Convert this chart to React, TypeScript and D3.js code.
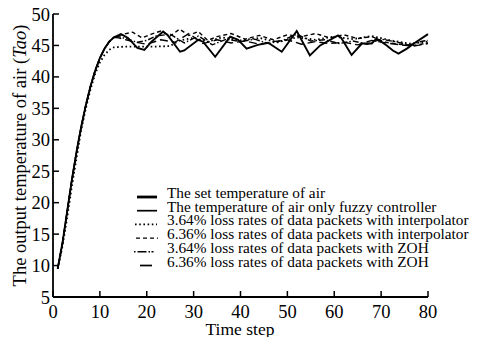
import * as d3 from 'd3';

// rising part shared by all runs
const riseSteps = [1, 2, 3, 4, 5, 6, 7, 8, 9, 10, 11, 12, 13];
const riseTemp = [9.5, 13.5, 18.5, 23.5, 28, 32, 35.5, 38.5, 41, 43, 44.5, 45.6, 46.3];
const riseTempLag = [9.5, 13, 17.5, 22.5, 27, 31.5, 35, 38, 40.5, 42.3, 43.5, 44.3, 44.7];

// only fuzzy controller (solid)
const fuzzySteps = [14.5, 16, 18, 19.5, 21, 23.5, 24.5, 27.1, 28, 31, 32, 34.6, 37.8, 39.5, 41.3, 43.7, 46, 48.8, 52, 54.8, 57, 60.8, 61.5, 63.7, 65.9, 68, 69, 71.2, 72.5, 73.7, 75.5, 77, 80];
const fuzzyTemp = [46.8, 46.2, 44.6, 44.3, 45.6, 47.2, 46.6, 44, 44.2, 45.9, 45.6, 43.2, 46.4, 45.9, 44.5, 45.1, 45.4, 44, 47.3, 43.4, 45, 46.6, 46.2, 43.5, 45.3, 45.3, 46.1, 45, 44.2, 43.7, 44.5, 45.3, 46.8];

// 3.64% loss, interpolator (dotted)
const interp364Steps = [15, 18, 21, 25, 27, 30, 33, 36, 40, 44, 48, 52, 56, 60, 64, 68, 72, 76, 80];
const interp364Temp = [44.8, 44.8, 44.8, 44.9, 45.8, 46.2, 45.6, 46.3, 45.8, 46.2, 45.5, 46.3, 45.9, 46.4, 46, 46.5, 45.8, 45.3, 45.6];

// 6.36% loss, interpolator (dashed)
const interp636Steps = [15, 17, 19, 21, 23, 25, 27, 29, 31, 33, 35, 38, 41, 44, 47, 50, 53, 56, 59, 62, 65, 68, 71, 74, 77, 80];
const interp636Temp = [46.8, 47.1, 46.2, 46.8, 47.3, 46.5, 47.6, 46.6, 47.2, 45.8, 46.4, 46.9, 46, 46.6, 45.9, 46.7, 46.4, 46.9, 46.2, 46.7, 46.1, 46.4, 45.5, 45.2, 45, 45.4];

// 3.64% loss, ZOH (dash-dot)
const zoh364Steps = [14, 16, 18, 20, 22, 25, 28, 31, 34, 37, 40, 43, 46, 49, 52, 55, 58, 61, 64, 67, 70, 73, 76, 79, 80];
const zoh364Temp = [46.4, 46, 45.5, 45.8, 46.5, 46.8, 45.4, 46.5, 45.1, 46, 45.6, 46, 45.3, 45.8, 46.8, 45.7, 45.9, 45.3, 45.7, 45.2, 46, 45.6, 45.1, 45.7, 45.8];

// 6.36% loss, ZOH (long dash)
const zoh636Steps = [14, 17, 20, 23, 26, 29, 32, 35, 38, 41, 44, 47, 50, 53, 56, 59, 62, 65, 68, 71, 74, 77, 80];
const zoh636Temp = [46.2, 45.6, 45.2, 45.9, 45.5, 46.9, 45.3, 45.9, 45.4, 45.7, 45.2, 45.6, 45.9, 45.2, 45.6, 45.3, 45.5, 45.1, 45.8, 45.4, 45.1, 44.9, 45.3];

const xTicks = [0, 10, 20, 30, 40, 50, 60, 70, 80];
const yTicks = [5, 10, 15, 20, 25, 30, 35, 40, 45, 50];
const legendLabels = [
  'The set temperature of air',
  'The temperature of air only fuzzy controller',
  '3.64% loss rates of data packets with interpolator',
  '6.36% loss rates of data packets with interpolator',
  '3.64% loss rates of data packets with ZOH',
  '6.36% loss rates of data packets with ZOH',
];

const font = 'Liberation Serif, Times New Roman, serif';

const App = () => {
  const width = 481;
  const height = 337;
  const x = d3.scaleLinear().domain([0, 80]).range([53, 428]);
  const y = d3.scaleLinear().domain([5, 50]).range([297, 14]);

  const line = d3
    .line<number[]>()
    .curve(d3.curveLinear)
    .x((d) => x(d[0]))
    .y((d) => y(d[1]));

  const build = (rt: number[], rv: number[], t: number[], v: number[]) =>
    rt.map((s, i) => [s, rv[i]]).concat(t.map((s, i) => [s, v[i]]));

  const series = [
    { pts: build(riseSteps, riseTempLag, interp364Steps, interp364Temp), dash: '1.6,2.6', w: 1.8 },
    { pts: build(riseSteps, riseTemp, interp636Steps, interp636Temp), dash: '4,3', w: 1.4 },
    { pts: build(riseSteps, riseTemp, zoh364Steps, zoh364Temp), dash: '6,2,1.5,2', w: 1.4 },
    { pts: build(riseSteps, riseTemp, zoh636Steps, zoh636Temp), dash: '8,4', w: 1.4 },
    { pts: build(riseSteps, riseTemp, fuzzySteps, fuzzyTemp), dash: null, w: 1.9 },
  ];

  const legendStyles = [
    { dash: null, w: 2.8, x0: 137, x1: 157 },
    { dash: null, w: 1.7, x0: 137, x1: 157 },
    { dash: '1.6,2.6', w: 1.8, x0: 135, x1: 157 },
    { dash: '4,3', w: 1.4, x0: 136, x1: 158 },
    { dash: '1.5,2,9,2,1.5', w: 1.4, x0: 134, x1: 158 },
    { dash: null, w: 1.7, x0: 140, x1: 152 },
  ];

  return (
    <svg width={width} height={height} style={{ position: 'absolute', left: 0, top: 0, background: '#fff' }}>
      {series.map((s, i) => (
        <path
          key={i}
          d={line(s.pts) || ''}
          fill="none"
          stroke="#000"
          strokeWidth={s.w}
          strokeDasharray={s.dash || undefined}
        />
      ))}

      {/* axes */}
      <line x1={x(0)} x2={x(0)} y1={y(5)} y2={y(50)} stroke="#000" strokeWidth={1.8} />
      <line x1={x(0)} x2={x(80)} y1={y(5)} y2={y(5)} stroke="#000" strokeWidth={1.8} />
      {xTicks.map((t) => (
        <g key={t}>
          <line x1={x(t)} x2={x(t)} y1={y(5)} y2={y(5) - 6} stroke="#000" strokeWidth={1.5} />
          <text x={x(t)} y={317.5} textAnchor="middle" fontFamily={font} fontSize={18.5}>
            {t}
          </text>
        </g>
      ))}
      {yTicks.map((t) => (
        <g key={t}>
          <line x1={x(0)} x2={x(0) + 6} y1={y(t)} y2={y(t)} stroke="#000" strokeWidth={1.5} />
          <text x={50} y={y(t) + 6.5} textAnchor="end" fontFamily={font} fontSize={18.5}>
            {t}
          </text>
        </g>
      ))}
      <text x={240} y={334.5} textAnchor="middle" fontFamily={font} fontSize={17.5}>
        Time step
      </text>
      <text
        transform={`translate(26,${y(27.5)}) rotate(-90)`}
        textAnchor="middle"
        fontFamily={font}
        fontSize={18.5}
      >
        The output temperature of air (<tspan fontStyle="italic">Tao</tspan>)
      </text>

      {/* legend */}
      {legendLabels.map((lab, i) => {
        const by = 198 + i * 13.7;
        const st = legendStyles[i];
        return (
          <g key={lab}>
            <line
              x1={st.x0}
              x2={st.x1}
              y1={by - 1}
              y2={by - 1}
              stroke="#000"
              strokeWidth={st.w}
              strokeDasharray={st.dash || undefined}
            />
            <text x={167} y={by} fontFamily={font} fontSize={15.3}>
              {lab}
            </text>
          </g>
        );
      })}
    </svg>
  );
};

export default App;
